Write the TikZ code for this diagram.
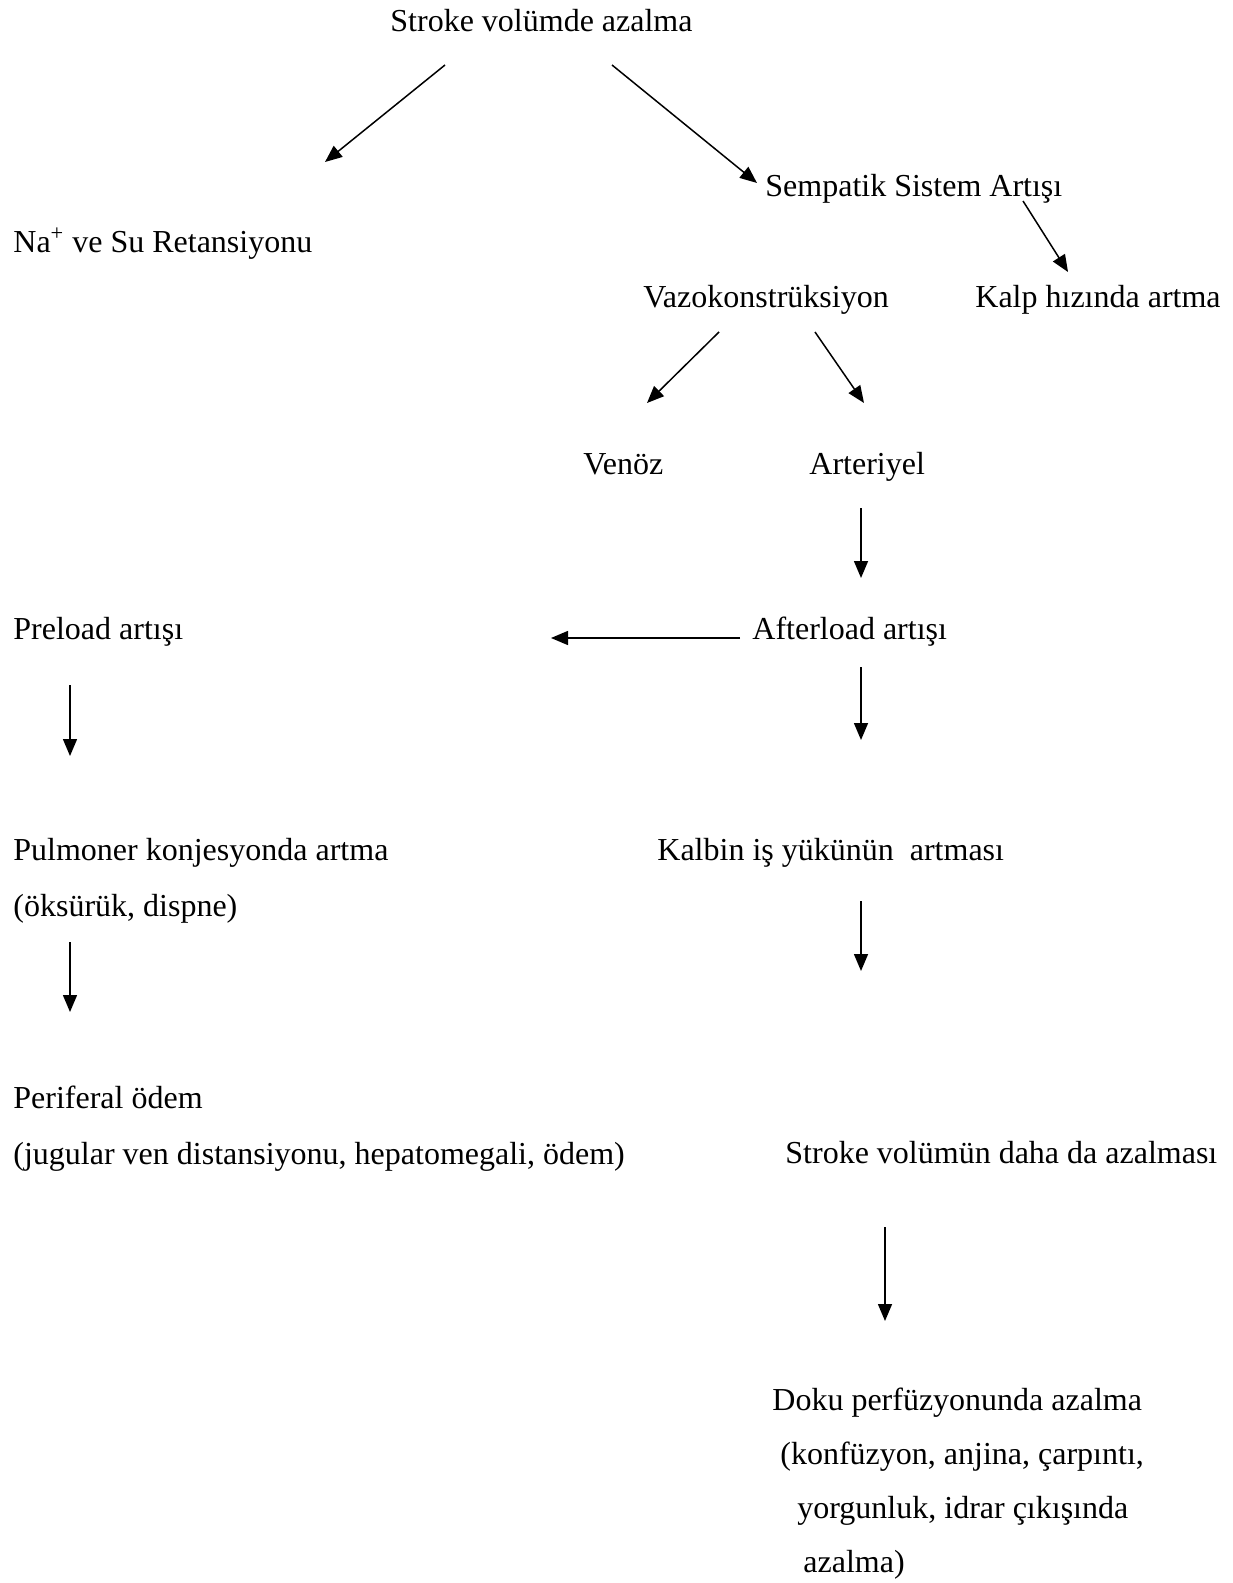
\documentclass[tikz,border=0pt]{standalone}
\usepackage{fontspec}
\setmainfont{Liberation Serif}
\usetikzlibrary{arrows.meta}
\begin{document}
\begin{tikzpicture}[x=0.5pt,y=-0.5pt]
\tikzstyle{every node}=[inner sep=0pt,anchor=base west,font=\fontsize{16}{28}\selectfont,align=left];
\tikzstyle{arr}=[line width=0.75pt,-{Triangle[length=8.5pt,width=7pt]}];
\useasboundingbox (0,0) rectangle (1232,1583);
% texts (multi-line ones sit on the baseline of their last line)
\node (sv) at (390,32) {Stroke volümde azalma};
\node (sempatik) at (765,197) {Sempatik Sistem Artışı};
\node (na) at (13,253) {Na\textsuperscript{+} ve Su Retansiyonu};
\node (vazo) at (643,308) {Vazokonstrüksiyon};
\node (kalp) at (975,308) {Kalp hızında artma};
\node (venoz) at (583,474) {Venöz};
\node (arter) at (809,474) {Arteriyel};
\node (preload) at (13,639) {Preload artışı};
\node (afterload) at (752,639) {Afterload artışı};
\node (pulmoner) at (13,916) {Pulmoner konjesyonda artma\\(öksürük, dispne)};
\node (kalbin) at (657,860) {Kalbin iş yükünün\ \ artması};
\node (periferal) at (13,1164) {Periferal ödem\\(jugular ven distansiyonu, hepatomegali, ödem)};
\node (sv2) at (785,1163) {Stroke volümün daha da azalması};
\node[font=\fontsize{16}{27}\selectfont] (doku) at (772,1572) {Doku perfüzyonunda azalma\\\hspace*{4pt}(konfüzyon, anjina, çarpıntı,\\\hspace*{12.5pt}yorgunluk, idrar çıkışında\\\hspace*{15.5pt}azalma)};
% arrow ends
\coordinate (sv-l) at (445,65);
\coordinate (na-t) at (325,162);
\coordinate (sv-r) at (612,65);
\coordinate (sempatik-t) at (757,183);
\coordinate (sempatik-b) at (1023,201);
\coordinate (kalp-t) at (1068,272);
\coordinate (vazo-l) at (719,332);
\coordinate (venoz-t) at (647,403);
\coordinate (vazo-r) at (815,332);
\coordinate (arter-t) at (864,403);
\coordinate (arter-b) at (861,508);
\coordinate (afterload-t) at (861,578);
\coordinate (afterload-l) at (740,638);
\coordinate (preload-r) at (551,638);
\coordinate (afterload-b) at (861,667);
\coordinate (kalbin-t) at (861,740);
\coordinate (preload-b) at (70,685);
\coordinate (pulmoner-t) at (70,756);
\coordinate (kalbin-b) at (861,901);
\coordinate (sv2-t) at (861,971);
\coordinate (pulmoner-b) at (70,942);
\coordinate (periferal-t) at (70,1012);
\coordinate (sv2-b) at (885,1227);
\coordinate (doku-t) at (885,1321);
% arrows
\draw[arr] (sv-l) -- (na-t);
\draw[arr] (sv-r) -- (sempatik-t);
\draw[arr] (sempatik-b) -- (kalp-t);
\draw[arr] (vazo-l) -- (venoz-t);
\draw[arr] (vazo-r) -- (arter-t);
\draw[arr] (arter-b) -- (afterload-t);
\draw[arr] (afterload-l) -- (preload-r);
\draw[arr] (afterload-b) -- (kalbin-t);
\draw[arr] (preload-b) -- (pulmoner-t);
\draw[arr] (kalbin-b) -- (sv2-t);
\draw[arr] (pulmoner-b) -- (periferal-t);
\draw[arr] (sv2-b) -- (doku-t);
\end{tikzpicture}
\end{document}
